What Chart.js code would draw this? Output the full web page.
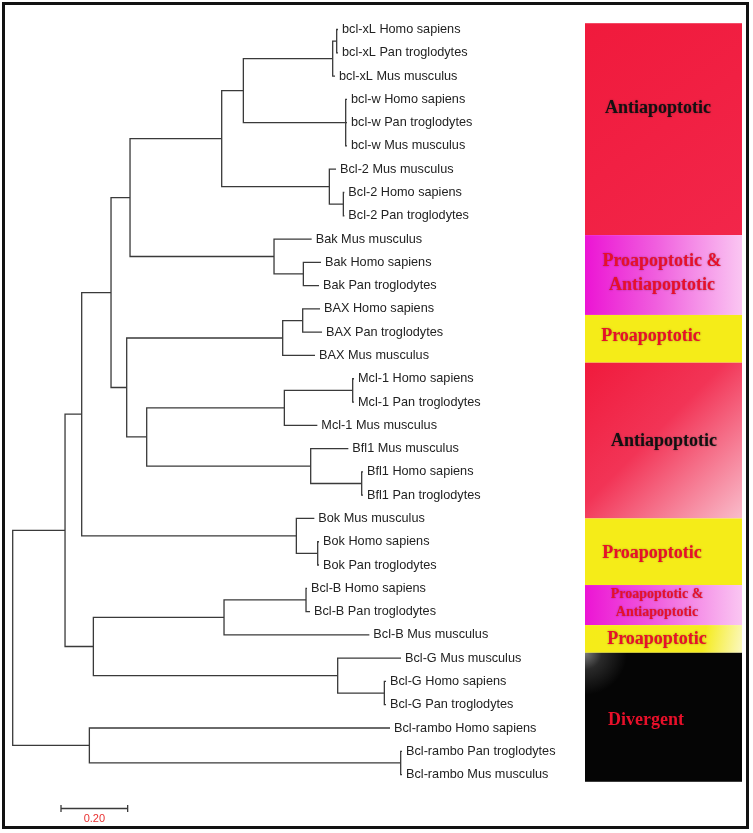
<!DOCTYPE html>
<html><head><meta charset="utf-8">
<script src="https://cdn.jsdelivr.net/npm/chart.js@4.4.1/dist/chart.umd.min.js"></script>
<style>html,body{margin:0;padding:0;background:#fff}canvas{display:block}</style>
</head><body>
<canvas id="c" width="753" height="833"></canvas>
<script>
// ---- DATA ----
const leafLabels = [
  'bcl-xL Homo sapiens','bcl-xL Pan troglodytes','bcl-xL Mus musculus',
  'bcl-w Homo sapiens','bcl-w Pan troglodytes','bcl-w Mus musculus',
  'Bcl-2 Mus musculus','Bcl-2 Homo sapiens','Bcl-2 Pan troglodytes',
  'Bak Mus musculus','Bak Homo sapiens','Bak Pan troglodytes',
  'BAX Homo sapiens','BAX Pan troglodytes','BAX Mus musculus',
  'Mcl-1 Homo sapiens','Mcl-1 Pan troglodytes','Mcl-1 Mus musculus',
  'Bfl1 Mus musculus','Bfl1 Homo sapiens','Bfl1 Pan troglodytes',
  'Bok Mus musculus','Bok Homo sapiens','Bok Pan troglodytes',
  'Bcl-B Homo sapiens','Bcl-B Pan troglodytes','Bcl-B Mus musculus',
  'Bcl-G Mus musculus','Bcl-G Homo sapiens','Bcl-G Pan troglodytes',
  'Bcl-rambo Homo sapiens','Bcl-rambo Pan troglodytes','Bcl-rambo Mus musculus'
];
// distance from root to each leaf tip
const leafDepth = [
  0.976,0.976,0.967,
  1.003,1.003,1.003,
  0.970,0.995,0.995,
  0.897,0.925,0.919,
  0.922,0.928,0.907,
  1.024,1.024,0.914,
  1.007,1.051,1.051,
  0.905,0.919,0.919,
  0.883,0.892,1.070,
  1.165,1.120,1.120,
  1.132,1.168,1.168
];
// internal nodes: distance from root, and children (numbers = leaves, 'cN' = clade N)
const cladeDepth = [
  0.972,0.960,0.999,0.692,0.992,0.950,0.627,0.872,0.784,0.352,
  0.870,0.810,1.020,0.815,1.047,0.894,0.402,0.342,0.295,0.915,
  0.851,0.207,0.880,0.634,1.115,0.975,0.242,0.157,1.164,0.230,0.000
];
const cladeChildren = [
  [0,1],['c0',2],[3,4,5],['c1','c2'],[7,8],[6,'c4'],['c3','c5'],[10,11],[9,'c7'],['c6','c8'],
  [12,13],['c10',14],[15,16],['c12',17],[19,20],[18,'c14'],['c13','c15'],['c11','c16'],['c9','c17'],[22,23],
  [21,'c19'],['c18','c20'],[24,25],['c22',26],[28,29],[27,'c24'],['c23','c25'],['c21','c26'],[31,32],[30,'c28'],['c27','c29']
];
// functional groups (leaf-index ranges)
const groupLabels = [
  ['Antiapoptotic'],['Proapoptotic &','Antiapoptotic'],['Proapoptotic'],['Antiapoptotic'],
  ['Proapoptotic'],['Proapoptotic &','Antiapoptotic'],['Proapoptotic'],['Divergent']
];
const groupFrom = [-0.27, 8.83, 12.26, 14.31, 21.0, 23.86, 25.58, 26.77];
const groupTo   = [ 8.83, 12.26, 14.31, 21.0, 23.86, 25.58, 26.77, 32.31];
const groupTextY = [[3.385],[9.974,10.975],[13.196],[17.706],[22.5],[24.25,25.05],[26.19],[29.69]];
const scaleBarValue = 0.20;

// ---- STYLES ----
const groupTextX = [658, 662, 651, 664, 652, 657, 657, 646];
const groupTextColor = ['#111','#e8102a','#e8102a','#111','#e8102a','#e8102a','#e8102a','#e8102a'];
const groupFontSize = [18,18,18,18,18,14,18,18];
const BOX_L = 585, BOX_R = 742;
const LINE = '#3a3a3a';

// ---- BUILD TREE GEOMETRY ----
const cladeY = [];
function pos(ref){
  if (typeof ref === 'number') return {x: leafDepth[ref], y: ref};
  const i = parseInt(ref.slice(1));
  return {x: cladeDepth[i], y: cladeY[i]};
}
cladeChildren.forEach((ch, i) => {
  cladeY[i] = (pos(ch[0]).y + pos(ch[ch.length-1]).y) / 2;
});
const datasets = [];
function seg(pts){
  datasets.push({data: pts, showLine: true, borderColor: LINE, borderWidth: 1.3,
    pointRadius: 0, fill: false, tension: 0, borderCapStyle: 'butt', borderJoinStyle: 'miter'});
}
cladeChildren.forEach((ch, i) => {
  const nx = cladeDepth[i];
  const a = pos(ch[0]), b = pos(ch[ch.length-1]);
  seg([{x:a.x,y:a.y},{x:nx,y:a.y},{x:nx,y:b.y},{x:b.x,y:b.y}]);
  for (let k = 1; k < ch.length-1; k++){
    const m = pos(ch[k]);
    seg([{x:nx,y:m.y},{x:m.x,y:m.y}]);
  }
});

// ---- PLUGINS ----
const bgPlugin = {
  id: 'bg',
  beforeDraw(chart){
    const c = chart.ctx;
    c.save(); c.fillStyle = '#fff'; c.fillRect(0,0,chart.width,chart.height); c.restore();
  },
  afterDraw(chart){
    const c = chart.ctx;
    c.save();
    c.strokeStyle = '#111'; c.lineWidth = 3;
    c.strokeRect(3.5, 3.5, 744, 824);
    c.restore();
  }
};

function boxFill(c, i, x0, y0, x1, y1){
  let g;
  switch(i){
    case 0:
      g = c.createLinearGradient(x0,y0,x1,y1);
      g.addColorStop(0,'#f01a3c'); g.addColorStop(1,'#f2264a'); return g;
    case 1: case 5:
      g = c.createLinearGradient(x0,0,x1,0);
      g.addColorStop(0,'#ec14d4'); g.addColorStop(0.45,'#f05ede'); g.addColorStop(1,'#fac6f2'); return g;
    case 2: case 4:
      return '#f5ec18';
    case 3:
      g = c.createLinearGradient(x0,y0,x1,y1);
      g.addColorStop(0,'#f01a3c'); g.addColorStop(0.45,'#f23456'); g.addColorStop(1,'#f9bccb'); return g;
    case 6:
      g = c.createLinearGradient(x0,y0,x1,y1);
      g.addColorStop(0,'#f5ec18'); g.addColorStop(0.75,'#f5ec20'); g.addColorStop(1,'#fbf8c0'); return g;
    case 7:
      g = c.createRadialGradient(x0,y0,0,x0,y0,42);
      g.addColorStop(0,'#7a7a7a'); g.addColorStop(0.4,'#2a2a2a'); g.addColorStop(1,'#050505'); return g;
  }
}

const annoPlugin = {
  id: 'anno',
  beforeDatasetsDraw(chart){
    const c = chart.ctx, ys = chart.scales.y, xs = chart.scales.x;
    c.save();
    groupFrom.forEach((f, i) => {
      const y0 = ys.getPixelForValue(f), y1 = ys.getPixelForValue(groupTo[i]);
      c.fillStyle = boxFill(c, i, BOX_L, y0, BOX_R, y1);
      c.fillRect(BOX_L, y0, BOX_R-BOX_L, y1-y0);
    });
    c.textAlign = 'center'; c.textBaseline = 'middle';
    groupLabels.forEach((lines, i) => {
      c.font = 'bold ' + groupFontSize[i] + 'px "Liberation Serif", "Times New Roman", serif';
      c.fillStyle = groupTextColor[i];
      c.shadowColor = 'rgba(0,0,0,0.35)'; c.shadowBlur = 2;
      lines.forEach((t, k) => {
        c.fillText(t, groupTextX[i], ys.getPixelForValue(groupTextY[i][k]));
      });
    });
    c.shadowBlur = 0; c.shadowColor = 'transparent';
    // scale bar
    const len = xs.getPixelForValue(scaleBarValue) - xs.getPixelForValue(0);
    const bx = 61, by = 808.5;
    c.strokeStyle = LINE; c.lineWidth = 1.3;
    c.beginPath();
    c.moveTo(bx, by); c.lineTo(bx+len, by);
    c.moveTo(bx, by-3.5); c.lineTo(bx, by+3.5);
    c.moveTo(bx+len, by-3.5); c.lineTo(bx+len, by+3.5);
    c.stroke();
    c.fillStyle = '#e83030'; c.font = '11px "Liberation Sans", Arial, sans-serif';
    c.fillText(scaleBarValue.toFixed(2), bx+len/2, by+10);
    c.restore();
  },
  afterDatasetsDraw(chart){
    const c = chart.ctx, ys = chart.scales.y, xs = chart.scales.x;
    c.save();
    c.font = '12.7px "Liberation Sans", Arial, sans-serif';
    c.fillStyle = '#222'; c.textAlign = 'left'; c.textBaseline = 'middle';
    leafLabels.forEach((t, i) => {
      c.fillText(t, xs.getPixelForValue(leafDepth[i]) + 4, ys.getPixelForValue(i));
    });
    c.restore();
  }
};

new Chart(document.getElementById('c'), {
  type: 'scatter',
  data: { datasets },
  options: {
    responsive: false, animation: false, devicePixelRatio: 1,
    layout: { padding: 0 },
    plugins: { legend: {display:false}, tooltip: {enabled:false} },
    scales: {
      x: { type: 'linear', display: false, min: -0.0381, max: 2.221 },
      y: { type: 'linear', display: false, reverse: true, min: -1.267, max: 34.51 }
    }
  },
  plugins: [bgPlugin, annoPlugin]
});
</script>
</body></html>
